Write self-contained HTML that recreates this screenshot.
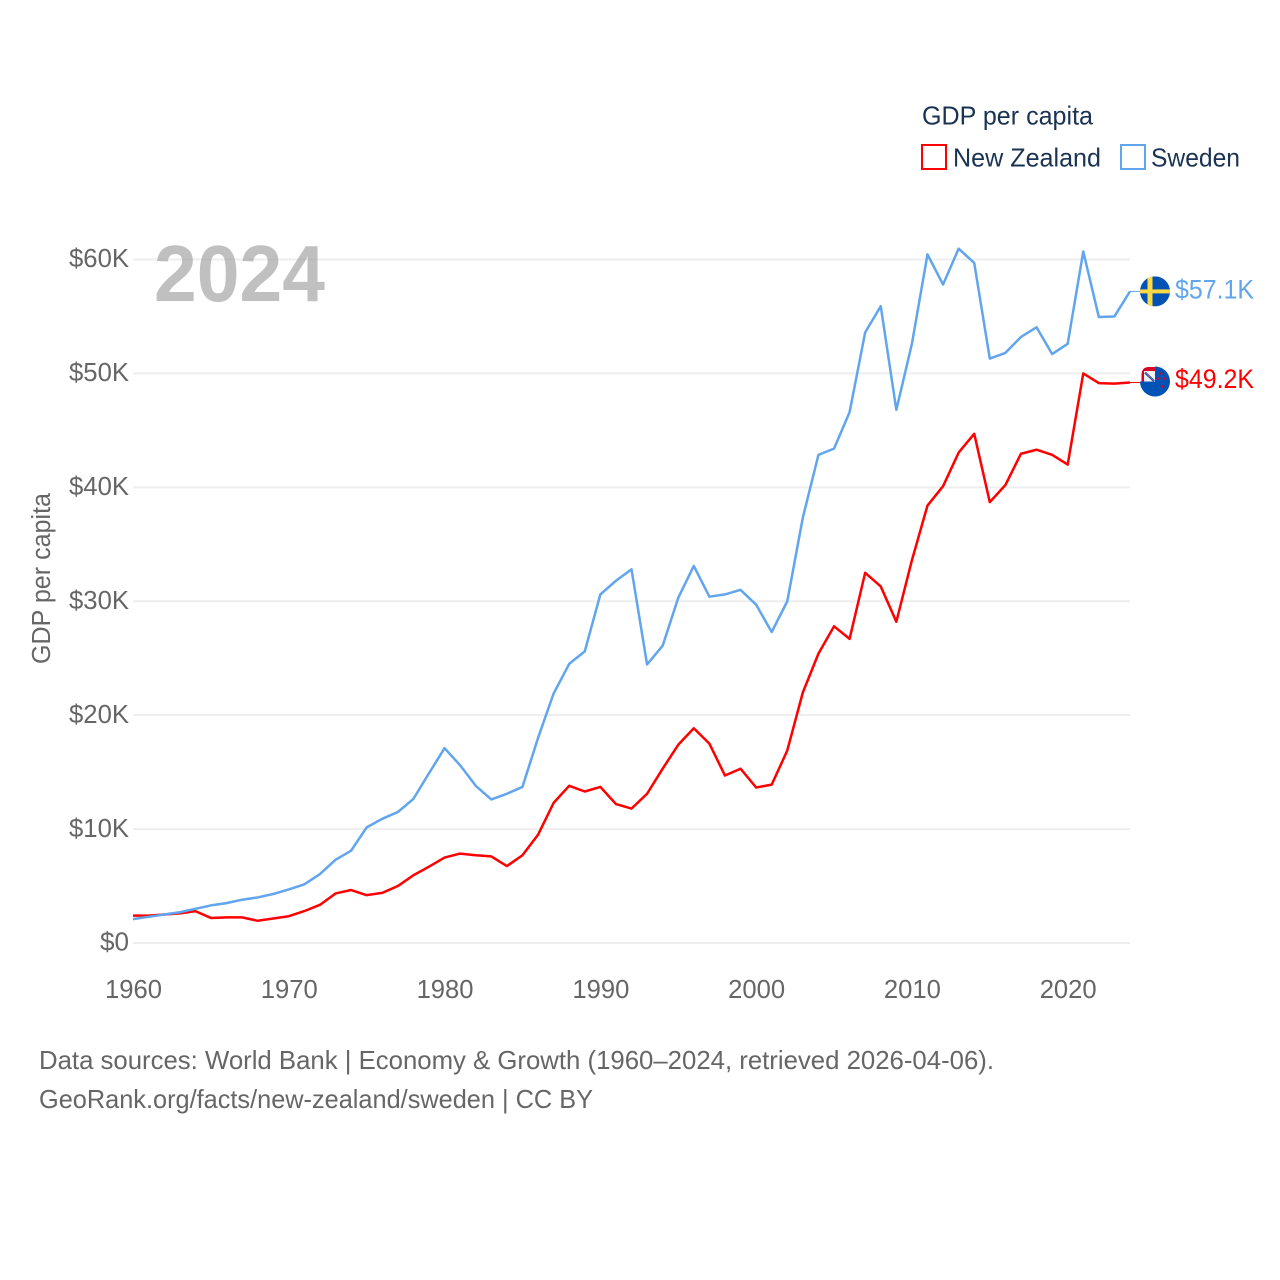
<!DOCTYPE html>
<html><head><meta charset="utf-8"><title>GDP per capita</title>
<style>
html,body{margin:0;padding:0;background:#fff;width:1280px;height:1280px;overflow:hidden}
svg{display:block}
text{font-family:"Liberation Sans",sans-serif}
</style></head>
<body>
<svg id="chart" xmlns="http://www.w3.org/2000/svg" width="1280" height="1280" viewBox="0 0 1280 1280">
<g id="grid"></g>
<text x="154" y="301" font-size="80" font-weight="700" fill="#999" fill-opacity="0.62" textLength="171" lengthAdjust="spacingAndGlyphs">2024</text>
<g id="yticks"></g>
<g id="xticks"></g>
<text transform="translate(50,664) rotate(-90)" font-size="25.5" fill="#666" textLength="171" lengthAdjust="spacingAndGlyphs">GDP per capita</text>
<g id="series"></g>
<g id="ends"></g>
<g>
<text x="922" y="124.5" font-size="26" fill="#1a3353" textLength="171" lengthAdjust="spacingAndGlyphs">GDP per capita</text>
<rect x="922" y="145" width="24" height="24" fill="#fff" stroke="#ff0000" stroke-width="2"/>
<text x="953" y="166.5" font-size="26" fill="#1a3353" textLength="148" lengthAdjust="spacingAndGlyphs">New Zealand</text>
<rect x="1121" y="145" width="24" height="24" fill="#fff" stroke="#60a5ee" stroke-width="2"/>
<text x="1151" y="166.5" font-size="26" fill="#1a3353" textLength="89" lengthAdjust="spacingAndGlyphs">Sweden</text>
</g>
<text x="39" y="1069" font-size="26" fill="#666" textLength="955" lengthAdjust="spacingAndGlyphs">Data sources: World Bank | Economy &amp; Growth (1960–2024, retrieved 2026-04-06).</text>
<text x="39" y="1108" font-size="26" fill="#666" textLength="554" lengthAdjust="spacingAndGlyphs">GeoRank.org/facts/new-zealand/sweden | CC BY</text>
</svg>
<script>
const startYear = 1960;
const endYear = 2024;
const xTickYears = [1960, 1970, 1980, 1990, 2000, 2010, 2020];
const yTickValues = [0, 10, 20, 30, 40, 50, 60];
const yTickLabels = ['$0', '$10K', '$20K', '$30K', '$40K', '$50K', '$60K'];
const newZealand = [2.4,2.4,2.5,2.6,2.8,2.2,2.25,2.25,1.95,2.15,2.35,2.8,3.35,4.35,4.65,4.2,4.4,5.0,5.95,6.7,7.5,7.85,7.7,7.6,6.75,7.7,9.5,12.3,13.8,13.3,13.7,12.2,11.8,13.1,15.3,17.4,18.85,17.5,14.7,15.3,13.65,13.9,16.9,22.0,25.4,27.8,26.7,32.5,31.3,28.2,33.6,38.4,40.1,43.05,44.7,38.7,40.2,42.95,43.3,42.85,42.0,50.0,49.15,49.1,49.2];
const sweden = [2.1,2.3,2.5,2.7,3.0,3.3,3.5,3.8,4.0,4.3,4.7,5.15,6.05,7.3,8.1,10.15,10.9,11.5,12.65,14.9,17.1,15.6,13.8,12.6,13.1,13.7,18.0,21.9,24.5,25.6,30.6,31.8,32.8,24.45,26.1,30.3,33.1,30.4,30.6,31.0,29.7,27.3,30.0,37.35,42.85,43.4,46.6,53.6,55.9,46.8,52.6,60.45,57.8,60.95,59.7,51.3,51.8,53.2,54.05,51.7,52.6,60.7,54.95,55.0,57.2];
const nzEndLabel = '$49.2K';
const seEndLabel = '$57.1K';

const NS = 'http://www.w3.org/2000/svg';
const x = function (yr) { return 133 + (yr - startYear) * (1130 - 133) / (endYear - startYear); };
const y = function (v) { return 943 - v * (943 - 259.5) / 60; };
function mk(tag, attrs, parent, txt) {
  const e = document.createElementNS(NS, tag);
  for (const k in attrs) e.setAttribute(k, attrs[k]);
  if (txt !== undefined) e.textContent = txt;
  parent.appendChild(e);
  return e;
}
const grid = document.getElementById('grid');
const yt = document.getElementById('yticks');
const xt = document.getElementById('xticks');
yTickValues.forEach(function (v, i) {
  const ln = mk('line', {x1: 133, x2: 1130, y1: y(v), y2: y(v), stroke: '#eeeeee', 'stroke-width': 2}, grid);
  
  
  const w = yTickLabels[i].length === 2 ? 29 : 60;
  const t = mk('text', {x: 129, y: y(v) + 7.7, 'text-anchor': 'end', 'font-size': 26, fill: '#666', textLength: w, lengthAdjust: 'spacingAndGlyphs'}, yt, yTickLabels[i]);
  
  
});
xTickYears.forEach(function (yr) {
  const t = mk('text', {x: x(yr) + 0.5, y: 998, 'text-anchor': 'middle', 'font-size': 26, fill: '#666', textLength: 57, lengthAdjust: 'spacingAndGlyphs'}, xt, String(yr));
  
  
});
function linePoints(vals) {
  return vals.map(function (v, i) { return x(startYear + i).toFixed(2) + ',' + y(v).toFixed(2); }).join(' ');
}
const seriesG = document.getElementById('series');
const nzLine = mk('polyline', {points: linePoints(newZealand), fill: 'none', stroke: '#ff0000', 'stroke-width': 2.5, 'stroke-linejoin': 'round'}, seriesG);


const seLine = mk('polyline', {points: linePoints(sweden), fill: 'none', stroke: '#60a5ee', 'stroke-width': 2.5, 'stroke-linejoin': 'round'}, seriesG);



const ends = document.getElementById('ends');
const defs = mk('defs', {}, ends);
const cpSe = mk('clipPath', {id: 'cp-se'}, defs);
const cxFlag = 1155;
const yNzEnd = y(newZealand[newZealand.length - 1]);
const ySeEnd = y(sweden[sweden.length - 1]);
const yNz = yNzEnd - 1;
const ySe = ySeEnd;
mk('circle', {cx: cxFlag, cy: ySe, r: 15}, cpSe);

const c1 = mk('line', {x1: 1130, x2: 1141, y1: ySeEnd, y2: ySeEnd, stroke: '#60a5ee', 'stroke-width': 1}, ends);


const c2 = mk('line', {x1: 1130, x2: 1141, y1: yNzEnd, y2: yNzEnd, stroke: '#ff0000', 'stroke-width': 1}, ends);



const fs = mk('g', {'clip-path': 'url(#cp-se)'}, ends);


mk('rect', {x: cxFlag - 15, y: ySe - 15, width: 30, height: 30, fill: '#0052b4'}, fs);
mk('rect', {x: cxFlag - 15, y: ySe - 2, width: 30, height: 4, fill: '#ffda44'}, fs);
mk('rect', {x: cxFlag - 7.5, y: ySe - 15, width: 5, height: 30, fill: '#ffda44'}, fs);

const nzBack = mk('path', {d: 'M' + cxFlag + ' ' + (yNz - 15) + 'A15 15 0 1 1 ' + (cxFlag - 15) + ' ' + yNz + 'H' + cxFlag + 'Z', fill: '#0052b4'}, ends);


const fn = mk('g', {}, ends);


mk('path', {d: 'M' + (cxFlag - 13.5) + ' ' + yNz + 'V' + (yNz - 6.5) + 'Q' + (cxFlag - 13.5) + ' ' + (yNz - 14.5) + ' ' + (cxFlag - 6) + ' ' + (yNz - 14.5) + 'H' + cxFlag + 'V' + yNz + 'Z', fill: '#d80027'}, fn);
mk('rect', {x: cxFlag - 11, y: yNz - 10.5, width: 11, height: 10.5, fill: '#f2f2f2'}, fn);
mk('path', {d: 'M' + (cxFlag - 10) + ' ' + (yNz - 9) + 'L' + (cxFlag - 1) + ' ' + (yNz - 0.5), stroke: '#0052b4', 'stroke-width': 2.2, fill: 'none'}, fn);
mk('path', {d: 'M' + (cxFlag - 10) + ' ' + (yNz - 9) + 'L' + (cxFlag - 1) + ' ' + (yNz - 0.5), stroke: '#e0607a', 'stroke-width': 0.6, fill: 'none'}, fn);
[[6, -8], [10, -3], [3, -3], [7, 5]].forEach(function (s) {
  mk('circle', {cx: cxFlag + s[0], cy: yNz + s[1], r: 1.3, fill: '#d80027'}, fn);
});

const l1 = mk('text', {x: 1175, y: ySe + 7, 'font-size': 27, fill: '#60a5ee', textLength: 79, lengthAdjust: 'spacingAndGlyphs'}, ends, seEndLabel);


const l2 = mk('text', {x: 1175, y: yNz + 6.5, 'font-size': 27, fill: '#ff0000', textLength: 79, lengthAdjust: 'spacingAndGlyphs'}, ends, nzEndLabel);


</script>
</body></html>
